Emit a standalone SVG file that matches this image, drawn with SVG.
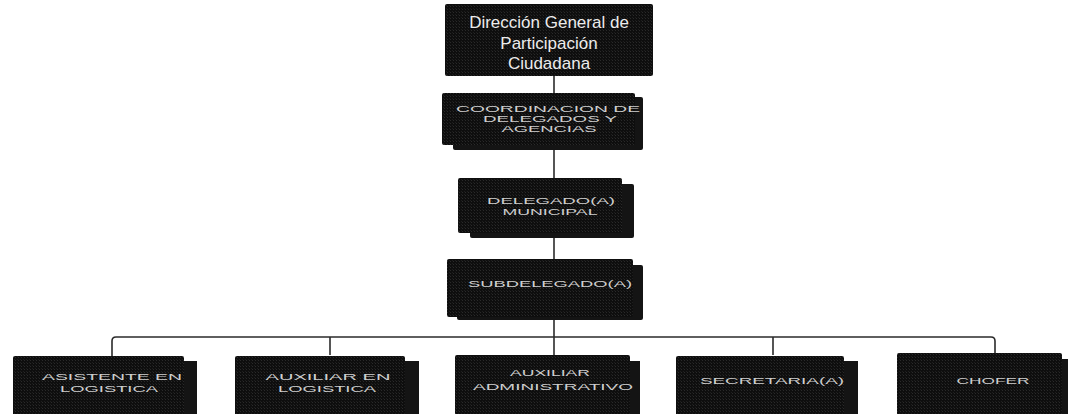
<svg xmlns="http://www.w3.org/2000/svg" width="1070" height="414" viewBox="0 0 1070 414">
<defs>
<pattern id="grain" width="3" height="3" patternUnits="userSpaceOnUse">
<rect width="3" height="3" fill="#0e0e0e"/>
<rect x="0" y="0" width="1" height="1" fill="#2a2a2a"/>
<rect x="2" y="2" width="1" height="1" fill="#1e1e1e"/>
</pattern>
</defs>
<style>
.box{fill:url(#grain);}
.back{fill:#141414;}
.conn{fill:none;stroke:#2b2b2b;stroke-width:1.6;}
.cap{font-family:"Liberation Sans",Arial,sans-serif;font-size:9.5px;fill:#cfcfcf;text-anchor:middle;}
.title{font-family:"Liberation Sans",Arial,sans-serif;font-size:17px;fill:#ececec;text-anchor:middle;}
</style>
<rect width="1070" height="414" fill="#ffffff"/>
<g id="connectors">
<line class="conn" x1="554" y1="75" x2="554" y2="93"/>
<line class="conn" x1="554" y1="150" x2="554" y2="178"/>
<line class="conn" x1="554" y1="238" x2="554" y2="259"/>
<line class="conn" x1="554" y1="320" x2="554" y2="355"/>
<path class="conn" d="M112 357 V341 Q112 337 116 337 H991 Q995 337 995 341 V355"/>
<line class="conn" x1="330" y1="337" x2="330" y2="355"/>
<line class="conn" x1="773" y1="337" x2="773" y2="355"/>
</g>
<g id="n-direccion">
<rect class="box" x="445" y="4" width="208" height="72" rx="2"/>
<text class="title" x="549" y="28">Dirección General de</text>
<text class="title" x="549" y="49">Participación</text>
<text class="title" x="549" y="69">Ciudadana</text>
</g>
<g id="n-coordinacion">
<rect class="back" x="453" y="97" width="190" height="53" rx="2"/>
<rect class="box" x="442" y="93" width="193" height="52" rx="2"/>
<text class="cap" x="548" y="112" textLength="184" lengthAdjust="spacingAndGlyphs">COORDINACION DE</text>
<text class="cap" x="550" y="122" textLength="134" lengthAdjust="spacingAndGlyphs">DELEGADOS Y</text>
<text class="cap" x="549" y="132" textLength="95" lengthAdjust="spacingAndGlyphs">AGENCIAS</text>
</g>
<g id="n-delegado">
<rect class="back" x="470" y="184" width="164" height="54" rx="2"/>
<rect class="box" x="458" y="178" width="164" height="55" rx="2"/>
<text class="cap" x="551" y="204" textLength="128" lengthAdjust="spacingAndGlyphs">DELEGADO(A)</text>
<text class="cap" x="550" y="215" textLength="95" lengthAdjust="spacingAndGlyphs">MUNICIPAL</text>
</g>
<g id="n-subdelegado">
<rect class="back" x="457" y="265" width="186" height="55" rx="2"/>
<rect class="box" x="447" y="259" width="186" height="58" rx="2"/>
<text class="cap" x="550" y="287" textLength="164" lengthAdjust="spacingAndGlyphs">SUBDELEGADO(A)</text>
</g>
<g id="n-asistente">
<rect class="back" x="25" y="361" width="172" height="60"/>
<rect class="box" x="13" y="356" width="171" height="60" rx="2"/>
<text class="cap" x="112" y="380" textLength="140" lengthAdjust="spacingAndGlyphs">ASISTENTE EN</text>
<text class="cap" x="109" y="392" textLength="98" lengthAdjust="spacingAndGlyphs">LOGISTICA</text>
</g>
<g id="n-auxiliar-log">
<rect class="back" x="247" y="361" width="172" height="60"/>
<rect class="box" x="235" y="356" width="170" height="60" rx="2"/>
<text class="cap" x="328" y="380" textLength="125" lengthAdjust="spacingAndGlyphs">AUXILIAR EN</text>
<text class="cap" x="327" y="392" textLength="98" lengthAdjust="spacingAndGlyphs">LOGISTICA</text>
</g>
<g id="n-auxiliar-adm">
<rect class="back" x="467" y="361" width="173" height="60"/>
<rect class="box" x="455" y="355" width="175" height="60" rx="2"/>
<text class="cap" x="550" y="376" textLength="80" lengthAdjust="spacingAndGlyphs">AUXILIAR</text>
<text class="cap" x="553" y="390" textLength="160" lengthAdjust="spacingAndGlyphs">ADMINISTRATIVO</text>
</g>
<g id="n-secretaria">
<rect class="back" x="688" y="361" width="170" height="60"/>
<rect class="box" x="676" y="356" width="168" height="60" rx="2"/>
<text class="cap" x="772" y="384" textLength="144" lengthAdjust="spacingAndGlyphs">SECRETARIA(A)</text>
</g>
<g id="n-chofer">
<rect class="back" x="908" y="359" width="160" height="60"/>
<rect class="box" x="897" y="353" width="165" height="62" rx="2"/>
<text class="cap" x="993" y="384" textLength="73" lengthAdjust="spacingAndGlyphs">CHOFER</text>
</g>
</svg>
